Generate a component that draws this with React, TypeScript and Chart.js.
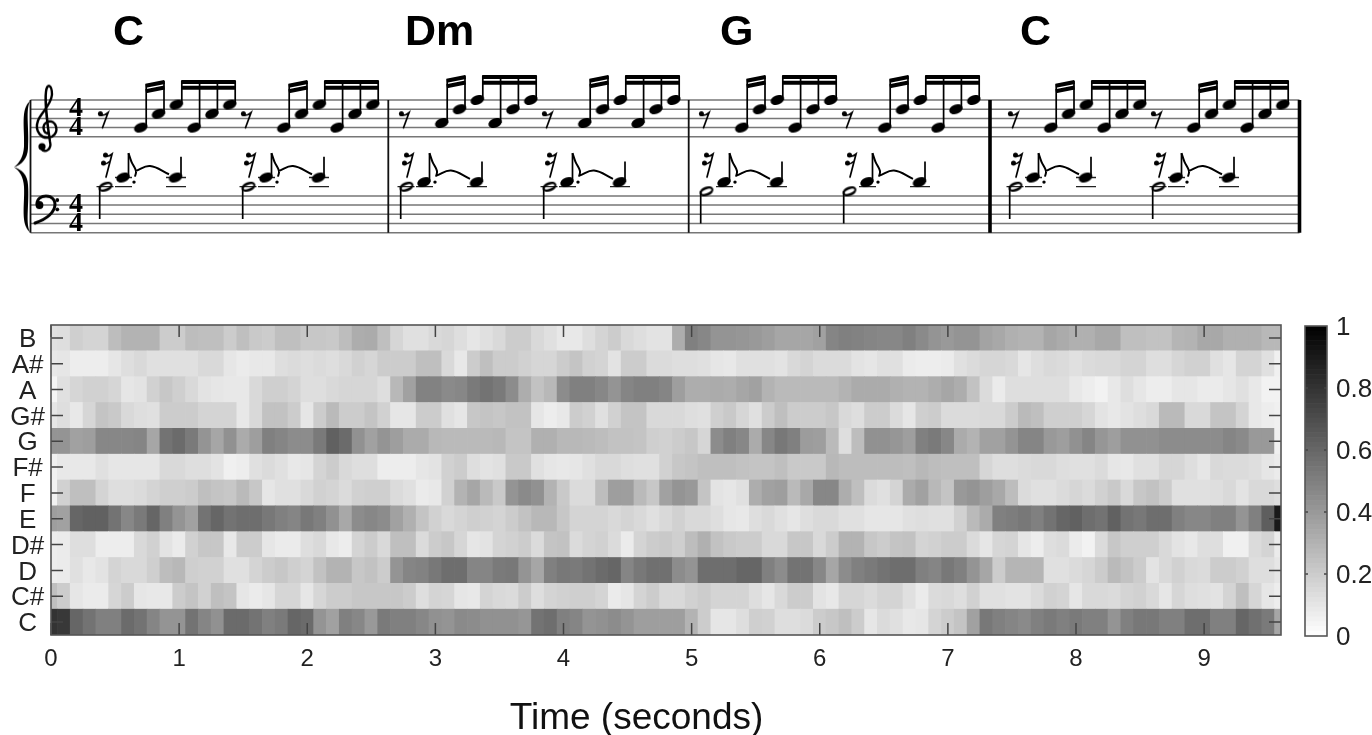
import React, { useEffect, useRef } from "react";
import { Chart, registerables } from "chart.js";

Chart.register(...registerables);

/* ---------- chroma data: percent of full scale, one value per 0.1 s frame (0.0 .. 9.6) ---------- */
const pitchClasses = ["C", "C#", "D", "D#", "E", "F", "F#", "G", "G#", "A", "A#", "B"];
const rowB = [12,13,19,17,17,26,30,30,30,20, 20,26,25,25,20,25,21,20,25,25, 22,22,21,26,32,33,25,16,12,12, 15,16,13,10,12,15,20,20,15,12, 9,9,13,17,20,15,13,11,11,32, 50,47,42,42,41,40,38,35,35,35, 37,48,50,49,48,47,47,50,46,42, 40,42,42,36,34,31,30,30,35,33, 31,31,34,34,25,25,24,24,29,30, 34,34,31,31,31,28,28];
const rowAs = [9,10,7,7,7,10,13,15,12,12, 12,12,15,15,10,8,9,9,13,14, 13,14,13,15,18,16,20,20,20,25, 25,15,9,20,25,20,20,18,16,16, 20,23,18,17,11,20,20,14,14,13, 13,12,10,9,12,12,12,11,15,17, 14,14,14,11,10,12,12,8,7,7, 8,12,14,16,16,15,10,13,15,14, 12,14,15,15,17,17,13,13,16,18, 18,12,10,17,17,12,6];
const rowA = [4,12,16,18,18,16,10,11,18,22, 19,15,11,10,9,9,15,19,19,17, 13,13,15,16,16,16,13,28,37,49, 49,46,47,52,55,52,45,32,24,28, 45,50,50,47,42,48,50,50,48,38, 32,32,33,32,35,37,30,27,27,27, 27,27,30,33,33,33,31,30,30,32, 35,32,24,14,8,13,13,13,13,13, 9,7,5,9,13,10,7,7,10,10, 8,8,10,12,9,5,5];
const rowGs = [10,13,9,16,23,21,15,13,12,20, 20,20,17,17,17,9,15,24,24,20, 10,20,27,20,20,23,18,10,10,20, 20,12,10,22,23,22,24,24,10,7, 9,20,18,12,18,23,23,15,15,15, 13,12,19,21,16,12,20,25,20,20, 20,22,15,13,20,20,14,10,19,20, 14,14,14,15,15,20,27,25,19,19, 19,16,11,9,11,13,15,27,27,15, 15,23,23,17,9,7,6];
const rowG = [42,42,37,38,47,47,47,48,35,55, 58,52,42,35,43,33,38,50,48,45, 45,52,62,58,43,37,42,38,33,33, 28,27,27,27,27,28,23,23,31,31, 28,28,27,26,24,24,23,19,18,20, 22,16,45,50,47,33,47,53,50,39, 38,27,13,26,43,43,41,38,50,52, 47,33,30,37,37,42,48,48,40,38, 43,48,41,38,43,43,43,45,45,45, 45,45,48,46,40,40,6];
const rowFs = [6,9,9,9,12,10,10,10,10,15, 15,13,13,11,6,7,12,14,12,9, 10,17,20,15,13,13,7,7,7,10, 11,18,20,13,11,12,21,21,12,10, 9,10,12,15,15,13,12,12,18,22, 23,25,25,25,24,23,23,25,21,21, 21,28,26,26,26,26,26,25,28,26, 25,25,25,16,13,13,14,15,15,13, 12,12,14,10,9,12,12,16,16,13, 10,15,14,14,13,10,8];
const rowF = [5,18,25,25,17,13,13,14,17,19, 19,20,25,23,22,27,22,10,12,12, 15,18,17,14,18,19,19,14,12,8, 9,18,30,35,27,21,42,46,43,30, 21,14,14,26,38,38,27,22,37,42, 40,23,11,10,12,32,37,38,27,34, 47,47,32,25,14,12,17,33,37,28, 23,40,42,38,34,26,14,12,12,14, 16,14,18,21,15,22,24,20,12,12, 12,13,15,11,15,15,13];
const rowE = [38,37,60,62,62,55,47,52,60,50, 42,37,55,60,55,57,57,53,50,48, 53,50,43,34,45,47,45,37,31,23, 18,15,17,19,18,17,20,24,28,28, 22,17,17,17,15,17,15,12,15,18, 15,15,13,10,9,13,15,12,10,13, 15,15,12,12,10,10,10,12,13,12, 12,18,27,33,50,51,53,50,55,60, 62,57,55,62,55,53,57,57,50,47, 47,50,50,42,50,63,90];
const rowDs = [7,8,13,13,7,7,7,15,18,11, 8,18,22,22,9,20,20,10,8,8, 13,15,9,7,17,20,15,25,25,14, 20,22,16,10,11,17,18,20,14,23, 24,14,17,18,14,8,17,20,21,19, 26,31,24,21,20,20,15,15,22,22, 15,20,30,30,22,20,23,24,17,18, 20,20,14,10,16,17,10,7,13,14, 8,5,14,22,19,19,19,15,11,9, 13,13,6,6,14,17,8];
const rowD = [7,8,12,9,11,17,15,15,19,26, 28,19,18,18,12,12,17,20,22,19, 17,24,30,30,22,24,20,42,48,49, 53,57,57,48,48,52,53,42,35,50, 53,52,55,58,60,48,53,56,56,45, 42,57,57,57,60,60,50,45,55,55, 47,35,45,50,52,55,57,57,50,48, 53,50,42,35,20,29,29,29,12,12, 14,16,20,27,24,20,11,15,18,15, 14,20,20,18,13,13,10];
const rowCs = [25,20,10,8,8,16,20,10,9,9, 20,23,18,25,23,10,8,10,16,16, 10,16,20,20,22,22,22,22,20,13, 17,16,10,9,17,15,14,20,13,17, 18,19,19,17,8,10,17,20,15,15, 18,20,17,17,17,13,10,15,20,20, 11,9,16,16,14,17,17,12,8,14, 15,13,18,12,12,11,11,14,18,17, 10,15,15,14,17,18,15,10,16,13, 12,11,17,25,16,10,7];
const rowC = [80,78,60,55,50,50,58,55,48,42, 42,55,48,43,58,58,55,50,52,60, 58,42,37,50,47,40,52,50,50,47, 43,42,46,45,43,43,43,41,55,57, 50,48,42,43,45,42,38,38,38,38, 30,20,10,10,13,19,18,13,13,14, 20,22,25,20,10,14,12,9,10,17, 20,23,37,53,50,48,46,50,52,50, 52,50,50,42,50,53,53,50,50,57, 57,50,50,60,56,52,35];
const chromaRows = [rowC, rowCs, rowD, rowDs, rowE, rowF, rowFs, rowG, rowGs, rowA, rowAs, rowB];
const frameTimes = rowC.map((_, k) => k / 10);

/* ---------- colour bar ---------- */
const colourLevels = Array.from({ length: 64 }, (_, i) => i / 64);
const xAxisTitle = "Time (seconds)";

/* ---------- score data ---------- */
const chordLabels = ["C", "Dm", "G", "C"];
const chordStarts = [113, 405, 720, 1020];
// diatonic steps above the bottom line of each staff
const trebleLines = [0, 2, 4, 6, 8];
const bassLines = [0, 2, 4, 6, 8];
const measureRests = [103, 404, 704, 1013];
const trebleFigure = [[2, 5, 7], [3, 6, 8], [2, 6, 8], [2, 5, 7]];
const beamHeights = [11.9, 13, 13, 11.9];
const bassHalf = [10, 10, 9, 10];
const bassQuarter = [12, 11, 11, 12];
const thinBars = [30.5, 388.3, 688.7];
const thickBars = [990, 1299.5];

const PX_STEP = 4.6;
const BASS = -20.85;
const HALF = 143;
const STEP16 = 17.8;

type P = { x: number; y: number };
const gap = (x: number): P => ({ x, y: NaN });

function glyph(w: number, h: number, draw: (c: CanvasRenderingContext2D) => void) {
  const cv = document.createElement("canvas");
  cv.width = w;
  cv.height = h;
  const c = cv.getContext("2d")!;
  c.translate(w / 2, h / 2);
  c.fillStyle = "#000";
  c.strokeStyle = "#000";
  c.lineCap = "round";
  draw(c);
  return cv;
}

function makeGlyphs() {
  const head = glyph(18, 14, (c) => {
    c.beginPath();
    c.ellipse(0, 0, 7, 4.7, -0.38, 0, Math.PI * 2);
    c.fill();
  });
  const hollow = glyph(20, 14, (c) => {
    c.beginPath();
    c.ellipse(0, 0, 7.2, 4.6, -0.38, 0, Math.PI * 2);
    c.fill();
    c.globalCompositeOperation = "destination-out";
    c.beginPath();
    c.ellipse(0, 0, 5.2, 2, -0.38, 0, Math.PI * 2);
    c.fill();
  });
  const rest8 = glyph(18, 24, (c) => {
    c.beginPath();
    c.arc(-3.6, -6.5, 2.5, 0, Math.PI * 2);
    c.fill();
    c.lineWidth = 1.7;
    c.beginPath();
    c.moveTo(-4, -5);
    c.quadraticCurveTo(0, -4, 4, -7.5);
    c.lineTo(-1.5, 7.5);
    c.stroke();
  });
  const rest16 = glyph(20, 30, (c) => {
    c.beginPath();
    c.arc(-1.5, -10, 2.5, 0, Math.PI * 2);
    c.arc(-3.5, -2, 2.5, 0, Math.PI * 2);
    c.fill();
    c.lineWidth = 1.7;
    c.beginPath();
    c.moveTo(-1.5, -9);
    c.quadraticCurveTo(2, -8.5, 5, -11);
    c.lineTo(-1, 12);
    c.moveTo(-3.5, -1);
    c.quadraticCurveTo(0, -1, 3.2, -4);
    c.stroke();
  });
  const treble = glyph(50, 100, (c) => {
    c.lineWidth = 2.4;
    c.beginPath();
    c.moveTo(2, 6);
    c.bezierCurveTo(-4, 6, -6, -3, 1, -6);
    c.bezierCurveTo(9, -8, 13, 4, 5, 9);
    c.bezierCurveTo(-5, 13, -13, 4, -9, -7);
    c.bezierCurveTo(-6, -15, 4, -22, 5, -33);
    c.bezierCurveTo(5, -43, 0, -45, -1, -36);
    c.bezierCurveTo(-2, -28, 0, -5, 3, 14);
    c.bezierCurveTo(5, 22, -2, 26, -6, 21);
    c.stroke();
    c.beginPath();
    c.arc(-5, 19, 3.6, 0, Math.PI * 2);
    c.fill();
  });
  const bass = glyph(36, 60, (c) => {
    c.lineWidth = 3;
    c.beginPath();
    c.moveTo(-8, -1);
    c.bezierCurveTo(-8, -7, -3, -9, 1, -9);
    c.bezierCurveTo(8, -9, 10, -4, 10, -1);
    c.bezierCurveTo(10, 7, 2, 14, -10, 18);
    c.stroke();
    c.beginPath();
    c.arc(-5.5, 0, 3.9, 0, Math.PI * 2);
    c.arc(12.3, -5, 1.9, 0, Math.PI * 2);
    c.fill();
    c.beginPath();
    c.arc(12.3, 4.3, 1.9, 0, Math.PI * 2);
    c.fill();
  });
  const brace = glyph(30, 140, (c) => {
    c.beginPath();
    c.moveTo(8.5, -66);
    c.bezierCurveTo(-2, -58, 3, -38, 2, -20);
    c.bezierCurveTo(1.5, -10, -3, -3, -8, 0.5);
    c.bezierCurveTo(-3, 4, 1.5, 10, 2, 20);
    c.bezierCurveTo(3, 38, -2, 58, 8.5, 66);
    c.bezierCurveTo(3, 58, 7.5, 38, 6, 18);
    c.bezierCurveTo(5.5, 8, 0, 3, -8, 0.5);
    c.bezierCurveTo(0, -2, 5.5, -8, 6, -18);
    c.bezierCurveTo(7.5, -38, 3, -58, 8.5, -66);
    c.closePath();
    c.fill();
  });
  return { head, hollow, rest8, rest16, treble, bass, brace };
}

function scoreDatasets() {
  const g = makeGlyphs();
  const staff: P[] = [];
  const bars: P[] = [];
  const thick: P[] = [];
  const stems: P[] = [];
  const beams: P[] = [];
  const ledgers: P[] = [];
  const curves: P[] = [];
  const heads: P[] = [];
  const hollows: P[] = [];
  const rests8: P[] = [];
  const rests16: P[] = [];
  const dots: P[] = [];

  const seg = (list: P[], ...pts: P[]) => {
    list.push(...pts, gap(pts[pts.length - 1].x));
  };

  const left = thinBars[0];
  const right = thickBars[1];
  trebleLines.forEach((l) => seg(staff, { x: left, y: l }, { x: right, y: l }));
  bassLines.forEach((l) => seg(staff, { x: left, y: BASS + l }, { x: right, y: BASS + l }));
  thinBars.forEach((x) => seg(bars, { x, y: 8 }, { x, y: BASS }));
  thickBars.forEach((x) => seg(thick, { x, y: 8 }, { x, y: BASS }));

  measureRests.forEach((origin, m) => {
    [0, 1].forEach((h) => {
      const base = origin + h * HALF;
      rests8.push({ x: base + 1, y: 3.6 });
      const tx = (s: number) => base + 37.7 + (s - 2) * STEP16;
      const top = beamHeights[m];
      const figure = trebleFigure[m];
      const pitches = [figure[0], figure[1], figure[2], figure[0], figure[1], figure[2]];
      pitches.forEach((p, i) => {
        const s = i + 2;
        const sx = tx(s) + 5.5;
        heads.push({ x: tx(s), y: p });
        const stemTop = i === 0 ? top - 0.8 : top;
        seg(stems, { x: sx, y: p }, { x: sx, y: stemTop + 0.3 });
      });
      seg(beams, { x: tx(2) + 5, y: top - 0.8 }, { x: tx(3) + 6, y: top });
      seg(beams, { x: tx(2) + 5, y: top - 2.0 }, { x: tx(3) + 6, y: top - 1.2 });
      seg(beams, { x: tx(4) + 5, y: top }, { x: tx(7) + 6, y: top });
      seg(beams, { x: tx(4) + 5, y: top - 1.25 }, { x: tx(7) + 6, y: top - 1.25 });

      const hp = bassHalf[m];
      const qp = bassQuarter[m];
      hollows.push({ x: base + 2.5, y: BASS + hp });
      seg(stems, { x: base - 3.3, y: BASS + hp }, { x: base - 3.3, y: BASS + hp - 7 });
      rests16.push({ x: base + 4, y: BASS + 14.7 });
      heads.push({ x: base + 20, y: BASS + qp });
      heads.push({ x: base + 72.5, y: BASS + qp });
      seg(stems, { x: base + 25.5, y: BASS + qp }, { x: base + 25.5, y: BASS + 17.3 });
      seg(stems, { x: base + 78, y: BASS + qp }, { x: base + 78, y: BASS + qp + 4.5 });
      seg(
        curves,
        { x: base + 25.5, y: BASS + 17.3 },
        { x: base + 28.5, y: BASS + 15.4 },
        { x: base + 33, y: BASS + 13.4 },
        { x: base + 32, y: BASS + 12.2 },
      );
      seg(
        curves,
        { x: base + 32.5, y: BASS + qp + 1.4 },
        { x: base + 47, y: BASS + qp + 2.5 },
        { x: base + 66, y: BASS + qp + 0.7 },
      );
      dots.push({ x: base + 31, y: BASS + 11 });
      if (hp >= 10) seg(ledgers, { x: base - 6.5, y: BASS + 10 }, { x: base + 10.5, y: BASS + 10 });
      seg(ledgers, { x: base + 12, y: BASS + 10 }, { x: base + 29, y: BASS + 10 });
      seg(ledgers, { x: base + 63, y: BASS + 10 }, { x: base + 83, y: BASS + 10 });
      if (qp >= 12) {
        seg(ledgers, { x: base + 12, y: BASS + 12 }, { x: base + 29, y: BASS + 12 });
        seg(ledgers, { x: base + 63, y: BASS + 12 }, { x: base + 83, y: BASS + 12 });
      }
    });
  });

  const lineDs = (data: P[], color: string, width: number, tension = 0) => ({
    data,
    showLine: true,
    borderColor: color,
    borderWidth: width,
    pointRadius: 0,
    tension,
    borderCapStyle: "butt" as const,
    spanGaps: false,
  });
  const glyphDs = (data: P[], style: HTMLCanvasElement) => ({
    data,
    showLine: false,
    pointStyle: style,
    pointRadius: 4,
  });

  return [
    glyphDs(heads, g.head),
    glyphDs(hollows, g.hollow),
    glyphDs(rests8, g.rest8),
    glyphDs(rests16, g.rest16),
    glyphDs([{ x: 47, y: 2 }], g.treble),
    glyphDs([{ x: 45, y: BASS + 6 }], g.bass),
    glyphDs([{ x: 22, y: BASS / 2 + 4 - 0.05 }], g.brace),
    { data: dots, showLine: false, pointStyle: "circle", pointRadius: 1.7, pointBackgroundColor: "#000", pointBorderWidth: 0 },
    lineDs(beams, "#000", 4),
    lineDs(stems, "#000", 1.7),
    lineDs(curves, "#000", 2, 0.4),
    lineDs(ledgers, "#222", 1.3),
    lineDs(thick, "#000", 3.6),
    lineDs(bars, "#111", 1.8),
    lineDs(staff, "#777", 1.5),
  ];
}

const scoreText = {
  id: "scoreText",
  afterDatasetsDraw(chart: any) {
    const { ctx, scales } = chart;
    ctx.save();
    ctx.fillStyle = "#000";
    ctx.textBaseline = "middle";
    ctx.textAlign = "left";
    ctx.font = "bold 43px 'Liberation Sans'";
    chordLabels.forEach((t, i) => {
      ctx.fillText(t, scales.x.getPixelForValue(chordStarts[i]), scales.y.getPixelForValue(22.5));
    });
    ctx.textAlign = "center";
    ctx.font = "bold 28px 'Liberation Serif'";
    [6, 2, BASS + 6, BASS + 2].forEach((s) => {
      ctx.fillText("4", scales.x.getPixelForValue(76), scales.y.getPixelForValue(s));
    });
    ctx.restore();
  },
};

const frame = {
  id: "frame",
  afterDatasetsDraw(chart: any, _a: any, opts: any) {
    const { ctx, chartArea: a, scales } = chart;
    const len = opts.len;
    ctx.save();
    ctx.strokeStyle = "#444";
    ctx.lineWidth = 1.5;
    ctx.beginPath();
    scales.y.ticks.forEach((t: any) => {
      const p = scales.y.getPixelForValue(t.value);
      if (t.value <= scales.y.min || t.value >= scales.y.max) return;
      ctx.moveTo(a.left, p);
      ctx.lineTo(a.left + len, p);
      ctx.moveTo(a.right, p);
      ctx.lineTo(a.right - len, p);
    });
    if (opts.xTicks) {
      scales.x.ticks.forEach((t: any) => {
        const p = scales.x.getPixelForValue(t.value);
        ctx.moveTo(p, a.top);
        ctx.lineTo(p, a.top + len);
        ctx.moveTo(p, a.bottom);
        ctx.lineTo(p, a.bottom - len);
      });
    }
    ctx.stroke();
    ctx.strokeStyle = "#555";
    ctx.lineWidth = 1.6;
    ctx.strokeRect(a.left, a.top, a.right - a.left, a.bottom - a.top);
    if (opts.title) {
      ctx.fillStyle = "#111";
      ctx.font = "37px 'Liberation Sans'";
      ctx.textAlign = "center";
      ctx.textBaseline = "middle";
      ctx.fillText(opts.title, scales.x.getPixelForValue(4.57), scales.y.getPixelForValue(-3.25));
    }
    ctx.restore();
  },
};

const gray = (v: number) => {
  const g = Math.round(255 * (1 - v));
  return `rgb(${g},${g},${g})`;
};

const TICK_FONT = { family: "'Liberation Sans'", size: 26 };
const X_TICK_FONT = { family: "'Liberation Sans'", size: 24 };

export default function App() {
  const scoreRef = useRef<HTMLCanvasElement>(null);
  const heatRef = useRef<HTMLCanvasElement>(null);
  const barRef = useRef<HTMLCanvasElement>(null);

  useEffect(() => {
    const score = new Chart(scoreRef.current!, {
      type: "scatter",
      data: { datasets: scoreDatasets() as any },
      plugins: [scoreText],
      options: {
        animation: false,
        responsive: false,
        layout: { padding: 0, autoPadding: false },
        plugins: { legend: { display: false }, tooltip: { enabled: false } },
        scales: {
          x: { type: "linear", display: false, min: 0, max: 1372 },
          y: { type: "linear", display: false, min: (136.8 - 735) / PX_STEP, max: 136.8 / PX_STEP },
        },
      },
    } as any);

    const heat = new Chart(heatRef.current!, {
      type: "bar",
      data: {
        datasets: chromaRows.map((row, r) => ({
          label: pitchClasses[r],
          data: row.map((v, k) => ({ x: frameTimes[k], y: [r, r + 1] })),
          backgroundColor: row.map((v) => gray(v / 100)),
          borderWidth: 0,
          barPercentage: 1,
          categoryPercentage: 1,
          grouped: false,
        })),
      },
      plugins: [frame],
      options: {
        animation: false,
        responsive: false,
        layout: { padding: { left: 0, right: 91, top: 325, bottom: 0 } },
        plugins: {
          legend: { display: false },
          tooltip: { enabled: false },
          frame: { len: 12, xTicks: true, title: xAxisTitle },
        },
        scales: {
          x: {
            type: "linear",
            min: 0,
            max: 9.6,
            offset: false,
            grid: { display: false, drawTicks: false },
            border: { display: false },
            ticks: { stepSize: 1, includeBounds: false, font: X_TICK_FONT, color: "#222", padding: 10, maxRotation: 0 },
            afterFit: (s: any) => {
              s.height = 100;
            },
          },
          y: {
            type: "linear",
            min: 0,
            max: 12,
            grid: { display: false, drawTicks: false },
            border: { display: false },
            afterBuildTicks: (s: any) => {
              s.ticks = pitchClasses.map((_, i) => ({ value: i + 0.5 }));
            },
            ticks: {
              autoSkip: false,
              font: TICK_FONT,
              color: "#222",
              padding: 6,
              labelOffset: 2,
              crossAlign: "center",
              callback: (v: number) => pitchClasses[Math.floor(v)],
            },
            afterFit: (s: any) => {
              s.width = 51;
            },
          },
        },
      },
    } as any);

    const bar = new Chart(barRef.current!, {
      type: "bar",
      data: {
        labels: ["level"],
        datasets: colourLevels.map((l) => ({
          data: [[l, l + 1 / 64]],
          backgroundColor: gray(l + 0.5 / 64),
          borderWidth: 0,
          barPercentage: 1,
          categoryPercentage: 1,
          grouped: false,
        })),
      },
      plugins: [frame],
      options: {
        animation: false,
        responsive: false,
        layout: { padding: { left: 1305, right: 0, top: 326, bottom: 99 } },
        plugins: { legend: { display: false }, tooltip: { enabled: false }, frame: { len: 3, xTicks: false } },
        scales: {
          x: { display: false },
          y: {
            position: "right",
            type: "linear",
            min: 0,
            max: 1,
            grid: { display: false, drawTicks: false },
            border: { display: false },
            ticks: {
              stepSize: 0.2,
              font: TICK_FONT,
              color: "#222",
              padding: 9,
              labelOffset: 2,
              callback: (v: number) => (v === 0 || v === 1 ? String(v) : Number(v).toFixed(1)),
            },
            afterFit: (s: any) => {
              s.width = 45;
            },
          },
        },
      },
    } as any);

    return () => {
      score.destroy();
      heat.destroy();
      bar.destroy();
    };
  }, []);

  const style: React.CSSProperties = { position: "absolute", left: 0, top: 0, filter: "blur(0.45px)" };
  return (
    <div style={{ position: "fixed", left: 0, top: 0, width: 1372, height: 735, background: "#fff" }}>
      <canvas ref={scoreRef} width={1372} height={735} style={style} />
      <canvas ref={heatRef} width={1372} height={735} style={style} />
      <canvas ref={barRef} width={1372} height={735} style={style} />
    </div>
  );
}
